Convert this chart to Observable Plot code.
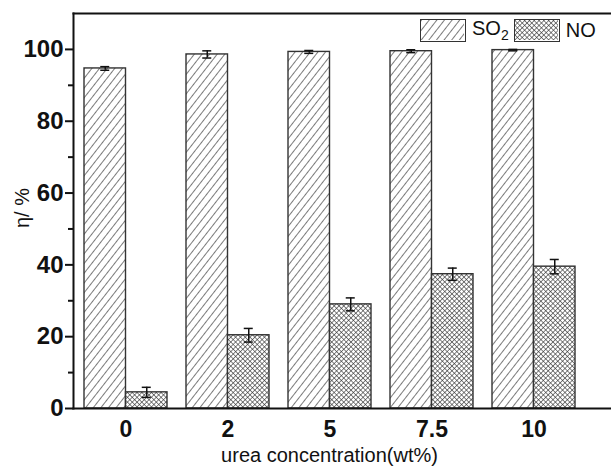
<!DOCTYPE html>
<html>
<head>
<meta charset="utf-8">
<script src="https://cdn.jsdelivr.net/npm/d3@7"></script>
<script src="https://cdn.jsdelivr.net/npm/@observablehq/plot@0.6"></script>
<style>
  body { margin: 0; background: #fff; font-family: Arial, "Liberation Sans", sans-serif; }
  #wrap { position: relative; width: 611px; height: 469px; }
  #legend { position: absolute; left: 420px; top: 17px; display: flex; align-items: center; font-size: 20px; color: #111; }
  #legend .sw { width: 46px; height: 23px; border: 1.5px solid #333; box-sizing: border-box; display: inline-block; line-height: 0; }
  #legend span.t { margin: 0 5px 0 6px; }
</style>
</head>
<body>
<svg width="0" height="0" style="position:absolute">
  <defs>
    <pattern id="hatch" patternUnits="userSpaceOnUse" width="6" height="6" patternTransform="rotate(38)">
      <rect width="6" height="6" fill="#fff"/>
      <line x1="0" y1="0" x2="0" y2="6" stroke="#222" stroke-width="1.2"/>
    </pattern>
    <pattern id="cross" patternUnits="userSpaceOnUse" width="3.4" height="3.4" patternTransform="rotate(45)">
      <rect width="3.4" height="3.4" fill="#fff"/>
      <line x1="0" y1="0" x2="0" y2="3.4" stroke="#333" stroke-width="1.2"/>
      <line x1="0" y1="0" x2="3.4" y2="0" stroke="#333" stroke-width="1.2"/>
    </pattern>
  </defs>
</svg>
<div id="wrap">
  <div id="chart"></div>
  <div id="legend">
    <span class="sw"><svg width="43" height="20"><rect width="43" height="20" fill="url(#hatch)"/></svg></span>
    <span class="t">SO<sub style="font-size:14px">2</sub></span>
    <span class="sw"><svg width="43" height="20"><rect width="43" height="20" fill="url(#cross)"/></svg></span>
    <span class="t">NO</span>
  </div>
</div>
<script>
const categories = ["0", "2", "5", "7.5", "10"];
const so2 = [94.7, 98.6, 99.3, 99.5, 99.8];
const so2Err = [0.5, 1.0, 0.4, 0.4, 0.2];
const no = [4.5, 20.4, 29.0, 37.4, 39.5];
const noErr = [1.4, 1.9, 1.8, 1.7, 2.0];
const yMajorTicks = [0, 20, 40, 60, 80, 100];
const yMinorTicks = [10, 30, 50, 70, 90];

const data = categories.map((c, i) => ({cat: c, so2: so2[i], so2e: so2Err[i], no: no[i], noe: noErr[i]}));

// layout constants (pixels)
const bw = 83;          // group band width
const half = bw / 2;
const cap = 9;
const capInOuter = half / 2 - cap / 2;
const capInInner = bw - capInOuter - cap;

const chart = Plot.plot({
  width: 611,
  height: 469,
  marginLeft: 73,
  marginRight: 0,
  marginTop: 13,
  marginBottom: 61,
  style: {fontFamily: "Arial, 'Liberation Sans', sans-serif", fontSize: "23px", fontWeight: "bold", background: "#fff", color: "#111"},
  x: {domain: categories, range: [73, 585], paddingInner: 19.5 / 102.5, paddingOuter: 9.75 / 102.5, label: null},
  y: {domain: [0, 110], label: null},
  marks: [
    Plot.barY(data, {x: "cat", y: "so2", insetRight: half, fill: "url(#hatch)", stroke: "#333", strokeWidth: 1.4}),
    Plot.barY(data, {x: "cat", y: "no", insetLeft: half, fill: "url(#cross)", stroke: "#333", strokeWidth: 1.4}),
    // error bars SO2
    Plot.ruleX(data, {x: "cat", y1: d => d.so2 - d.so2e, y2: d => d.so2 + d.so2e, dx: -half / 2, stroke: "#111", strokeWidth: 1.5}),
    Plot.tickY(data, {x: "cat", y: d => d.so2 - d.so2e, insetLeft: capInOuter, insetRight: capInInner, stroke: "#111", strokeWidth: 1.5}),
    Plot.tickY(data, {x: "cat", y: d => d.so2 + d.so2e, insetLeft: capInOuter, insetRight: capInInner, stroke: "#111", strokeWidth: 1.5}),
    // error bars NO
    Plot.ruleX(data, {x: "cat", y1: d => d.no - d.noe, y2: d => d.no + d.noe, dx: half / 2, stroke: "#111", strokeWidth: 1.5}),
    Plot.tickY(data, {x: "cat", y: d => d.no - d.noe, insetLeft: capInInner, insetRight: capInOuter, stroke: "#111", strokeWidth: 1.5}),
    Plot.tickY(data, {x: "cat", y: d => d.no + d.noe, insetLeft: capInInner, insetRight: capInOuter, stroke: "#111", strokeWidth: 1.5}),
    // frame lines
    Plot.frame({anchor: "left", stroke: "#111", strokeWidth: 2}),
    Plot.frame({anchor: "top", stroke: "#111", strokeWidth: 2}),
    Plot.frame({anchor: "bottom", stroke: "#111", strokeWidth: 2}),
    // axes
    Plot.axisY({ticks: yMajorTicks, tickSize: 8, tickPadding: 2, strokeWidth: 2, label: null}),
    Plot.axisY({ticks: yMinorTicks, tickSize: 5, tickFormat: () => "", strokeWidth: 2, label: null}),
    Plot.axisX({tickSize: 0, tickPadding: 12, label: null}),
    // axis titles
    Plot.text(["urea concentration(wt%)"], {frameAnchor: "bottom", dx: -13, dy: 53, fontSize: 20, fontWeight: "normal", fill: "#111"}),
    Plot.text(["η/ %"], {frameAnchor: "left", rotate: -90, dx: -51, dy: 17, fontSize: 20, fontWeight: "normal", fill: "#111"})
  ]
});
document.getElementById("chart").appendChild(chart);
chart.querySelectorAll('g[aria-label="y-axis tick label"] text').forEach(t => {
  t.style.fontSize = "24px";
  t.style.fontWeight = "bold";
});
</script>
</body>
</html>
